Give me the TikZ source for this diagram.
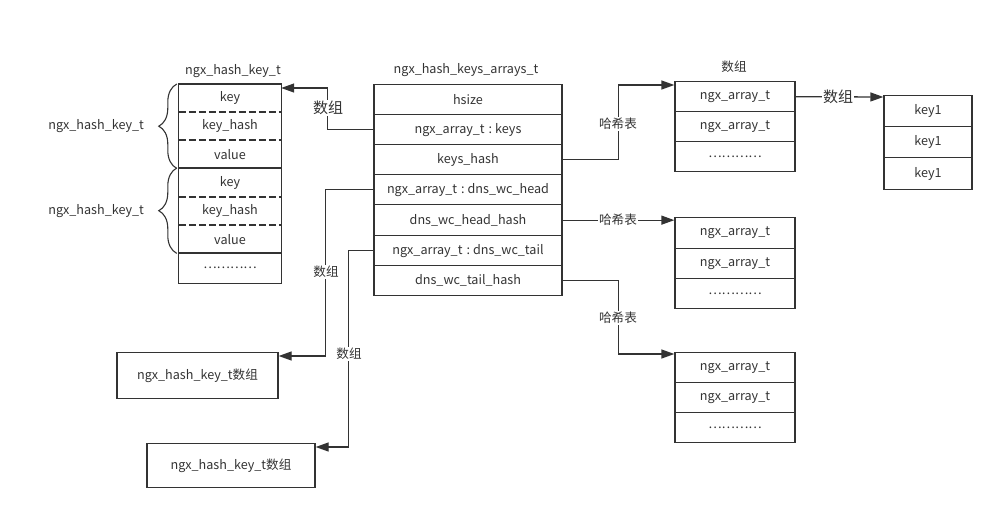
\documentclass[tikz,border=0pt]{standalone}
\usepackage{fontspec}
\setmainfont{Noto Sans CJK SC}
\usetikzlibrary{arrows.meta,decorations.pathreplacing,calc}
\definecolor{ink}{HTML}{333333}
\newcommand\cln{\hspace{4pt}:\hspace{3pt}}
\begin{document}
\begin{tikzpicture}[x=1pt,y=-1pt,
  every node/.style={text=ink,font=\fontsize{12.6}{14}\selectfont},
  cell/.style={draw=ink,line width=1.3pt,minimum height=#1,inner sep=0pt,anchor=north},
  plain/.style={minimum height=#1,inner sep=0pt,anchor=north},
  ln/.style={draw=ink,line width=1.3pt},
  dsh/.style={draw=ink,line width=1.3pt,dash pattern=on 7pt off 3pt},
  arr/.style={draw=ink,line width=1.3pt,-{Triangle[length=13pt,width=9pt]}},
  lbl/.style={fill=white,inner sep=1pt},
  big/.style={fill=white,inner sep=1pt,font=\fontsize{15}{17}\selectfont},
  brc/.style={draw=ink,line width=1.1pt,decorate,decoration={brace,amplitude=18pt}}]
\useasboundingbox (0,0) rectangle (1004,517);

% ---- left stack ngx_hash_key_t
\node at (233,71) {ngx\_hash\_key\_t};
\begin{scope}[every node/.append style={minimum width=102pt}]
\node[plain=28pt] (k1) at (230,84) {key};
\node[plain=28pt] (k2) at (230,112) {key\_hash};
\node[plain=28pt] (k3) at (230,140) {value};
\node[plain=29pt] (k4) at (230,168) {key};
\node[plain=28pt] (k5) at (230,197) {key\_hash};
\node[plain=28pt] (k6) at (230,225) {value};
\node[plain=30pt] (k7) at (230,253) {…………};
\end{scope}
\draw[ln] (k1.north west) rectangle (k7.south east);
\draw[dsh] (k2.north west) -- (k2.north east);
\draw[dsh] (k3.north west) -- (k3.north east);
\draw[ln] (k4.north west) -- (k4.north east);
\draw[dsh] (k5.north west) -- (k5.north east);
\draw[dsh] (k6.north west) -- (k6.north east);
\draw[ln] (k7.north west) -- (k7.north east);
\draw[brc] ($(k3.south west)+(-2,0)$) -- node[left=29pt] {ngx\_hash\_key\_t} ($(k1.north west)+(-2,0)$);
\draw[brc] ($(k6.south west)+(-2,0)$) -- node[left=29pt] {ngx\_hash\_key\_t} ($(k4.north west)+(-2,0)$);

% ---- middle stack ngx_hash_keys_arrays_t
\node at (466,70) {ngx\_hash\_keys\_arrays\_t};
\begin{scope}[every node/.append style={minimum width=188pt}]
\node[cell=30pt] (m1) at (468,84) {hsize};
\node[cell=30pt] (m2) at (468,114) {ngx\_array\_t\cln keys};
\node[cell=30pt] (m3) at (468,144) {keys\_hash};
\node[cell=30pt] (m4) at (468,174) {ngx\_array\_t\cln dns\_wc\_head};
\node[cell=31pt] (m5) at (468,204) {dns\_wc\_head\_hash};
\node[cell=30pt] (m6) at (468,235) {ngx\_array\_t\cln dns\_wc\_tail};
\node[cell=30pt] (m7) at (468,265) {dns\_wc\_tail\_hash};
\end{scope}

% ---- right boxes
\node at (734,67) {数组};
\begin{scope}[every node/.append style={minimum width=120pt}]
\node[cell=30pt] (a1) at (735,81) {ngx\_array\_t};
\node[cell=30pt] (a2) at (735,111) {ngx\_array\_t};
\node[cell=30pt] (a3) at (735,141) {…………};
\node[cell=31pt] (c1) at (735,217) {ngx\_array\_t};
\node[cell=30pt] (c2) at (735,248) {ngx\_array\_t};
\node[cell=30pt] (c3) at (735,278) {…………};
\node[cell=30pt] (d1) at (735,352) {ngx\_array\_t};
\node[cell=30pt] (d2) at (735,382) {ngx\_array\_t};
\node[cell=30pt] (d3) at (735,412) {…………};
\end{scope}
\begin{scope}[every node/.append style={minimum width=88pt}]
\node[cell=31pt] (b1) at (928,95) {key1};
\node[cell=31pt] (b2) at (928,126) {key1};
\node[cell=32pt] (b3) at (928,157) {key1};
\end{scope}

% ---- bottom boxes
\node[cell=46pt,minimum width=161pt] (e) at (197.5,352) {ngx\_hash\_key\_t数组};
\node[cell=44pt,minimum width=168pt] (f) at (231,443) {ngx\_hash\_key\_t数组};

% ---- connectors
\draw[arr] (m2.west) -- ++(-46,0) |- ($(k1.north east)+(0,4)$);
\node[big] at (328,108) {数组};
\draw[arr] (m4.west) -- ++(-48,0) |- ($(e.north east)+(0,4)$);
\node[lbl] at (326,272) {数组};
\draw[arr] (m6.west) -- ++(-25,0) |- ($(f.north east)+(0,4)$);
\node[lbl] at (349,354) {数组};

\draw[arr] (m3.east) -- ++(56,0) |- ($(a1.north west)+(0,4)$);
\node[lbl] at (618,124) {哈希表};
\draw[arr] (m5.east) -- (m5.east -| c1.west);
\node[lbl] at (618,220) {哈希表};
\draw[arr] (m7.east) -- ++(56,0) |- ($(d1.north west)+(0,2)$);
\node[lbl] at (618,318) {哈希表};

\draw[arr] (a1.east) -- ($(b1.north west)+(0,2)$);
\node[big] at (838,97) {数组};
\end{tikzpicture}
\end{document}
